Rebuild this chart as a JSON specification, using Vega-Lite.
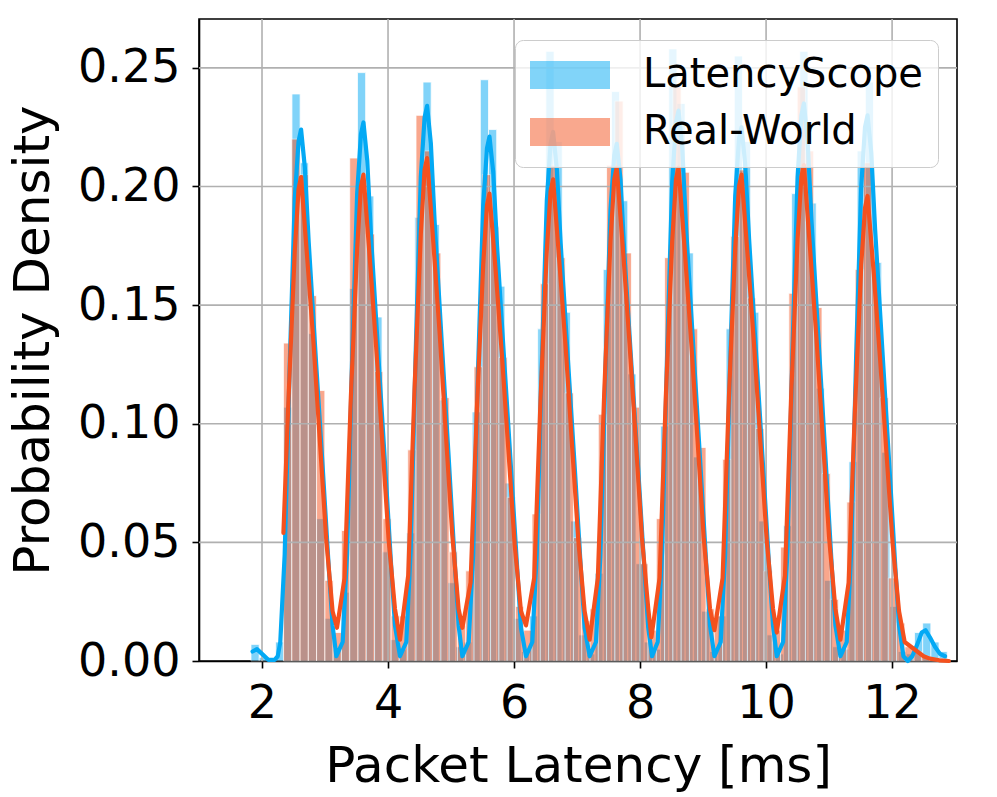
{
"$schema": "https://vega.github.io/schema/vega-lite/v6.json",
"width": 758, "height": 642,
"autosize": {"type": "none"},
"padding": {"left": 199, "top": 19, "right": 40, "bottom": 136},
"background": "white",
"config": {
 "font": "DejaVu Sans",
 "view": {"stroke": "black", "strokeWidth": 1.6},
 "axis": {"domain": true, "domainColor": "black", "domainWidth": 1.6, "ticks": true, "tickColor": "black", "tickSize": 7, "tickWidth": 1.6,
  "labelFont": "DejaVu Sans", "labelFontSize": 46, "labelColor": "black", "labelFlush": false, "labelOverlap": false,
  "titleFont": "DejaVu Sans", "titleFontSize": 50, "titleFontWeight": "normal", "titleColor": "black", "grid": false, "zindex": 1}
},
"datasets": {
 "hist": [
{"s":"LatencyScope","x0":1.825,"x1":1.955,"y":0.007},{"s":"LatencyScope","x0":1.955,"x1":2.085,"y":0.0015},{"s":"LatencyScope","x0":2.085,"x1":2.215,"y":0.001},{"s":"LatencyScope","x0":2.215,"x1":2.345,"y":0.008},{"s":"LatencyScope","x0":2.345,"x1":2.475,"y":0.107},{"s":"LatencyScope","x0":2.475,"x1":2.605,"y":0.239},{"s":"LatencyScope","x0":2.605,"x1":2.735,"y":0.210},{"s":"LatencyScope","x0":2.735,"x1":2.865,"y":0.138},{"s":"LatencyScope","x0":2.865,"x1":2.995,"y":0.06},{"s":"LatencyScope","x0":2.995,"x1":3.125,"y":0.018},
{"s":"LatencyScope","x0":3.125,"x1":3.255,"y":0.005},{"s":"LatencyScope","x0":3.255,"x1":3.385,"y":0.029},{"s":"LatencyScope","x0":3.385,"x1":3.515,"y":0.157},{"s":"LatencyScope","x0":3.515,"x1":3.645,"y":0.248},{"s":"LatencyScope","x0":3.645,"x1":3.775,"y":0.196},{"s":"LatencyScope","x0":3.775,"x1":3.905,"y":0.145},{"s":"LatencyScope","x0":3.905,"x1":4.035,"y":0.046},{"s":"LatencyScope","x0":4.035,"x1":4.165,"y":0.009},{"s":"LatencyScope","x0":4.165,"x1":4.295,"y":0.005},{"s":"LatencyScope","x0":4.295,"x1":4.425,"y":0.054},
{"s":"LatencyScope","x0":4.425,"x1":4.555,"y":0.187},{"s":"LatencyScope","x0":4.555,"x1":4.685,"y":0.244},{"s":"LatencyScope","x0":4.685,"x1":4.815,"y":0.184},{"s":"LatencyScope","x0":4.815,"x1":4.945,"y":0.110},{"s":"LatencyScope","x0":4.945,"x1":5.075,"y":0.033},{"s":"LatencyScope","x0":5.075,"x1":5.205,"y":0.006},{"s":"LatencyScope","x0":5.205,"x1":5.335,"y":0.008},{"s":"LatencyScope","x0":5.335,"x1":5.465,"y":0.105},{"s":"LatencyScope","x0":5.465,"x1":5.595,"y":0.245},{"s":"LatencyScope","x0":5.595,"x1":5.725,"y":0.224},
{"s":"LatencyScope","x0":5.725,"x1":5.855,"y":0.158},{"s":"LatencyScope","x0":5.855,"x1":5.985,"y":0.075},{"s":"LatencyScope","x0":5.985,"x1":6.115,"y":0.018},{"s":"LatencyScope","x0":6.115,"x1":6.245,"y":0.004},{"s":"LatencyScope","x0":6.245,"x1":6.375,"y":0.019},{"s":"LatencyScope","x0":6.375,"x1":6.505,"y":0.140},{"s":"LatencyScope","x0":6.505,"x1":6.635,"y":0.257},{"s":"LatencyScope","x0":6.635,"x1":6.765,"y":0.219},{"s":"LatencyScope","x0":6.765,"x1":6.895,"y":0.147},{"s":"LatencyScope","x0":6.895,"x1":7.025,"y":0.059},
{"s":"LatencyScope","x0":7.025,"x1":7.155,"y":0.011},{"s":"LatencyScope","x0":7.155,"x1":7.285,"y":0.003},{"s":"LatencyScope","x0":7.285,"x1":7.415,"y":0.037},{"s":"LatencyScope","x0":7.415,"x1":7.545,"y":0.165},{"s":"LatencyScope","x0":7.545,"x1":7.675,"y":0.240},{"s":"LatencyScope","x0":7.675,"x1":7.805,"y":0.194},{"s":"LatencyScope","x0":7.805,"x1":7.935,"y":0.121},{"s":"LatencyScope","x0":7.935,"x1":8.065,"y":0.041},{"s":"LatencyScope","x0":8.065,"x1":8.195,"y":0.008},{"s":"LatencyScope","x0":8.195,"x1":8.325,"y":0.005},
{"s":"LatencyScope","x0":8.325,"x1":8.455,"y":0.099},{"s":"LatencyScope","x0":8.455,"x1":8.585,"y":0.258},{"s":"LatencyScope","x0":8.585,"x1":8.715,"y":0.235},{"s":"LatencyScope","x0":8.715,"x1":8.845,"y":0.172},{"s":"LatencyScope","x0":8.845,"x1":8.975,"y":0.086},{"s":"LatencyScope","x0":8.975,"x1":9.105,"y":0.021},{"s":"LatencyScope","x0":9.105,"x1":9.235,"y":0.004},{"s":"LatencyScope","x0":9.235,"x1":9.365,"y":0.019},{"s":"LatencyScope","x0":9.365,"x1":9.495,"y":0.140},{"s":"LatencyScope","x0":9.495,"x1":9.625,"y":0.255},
{"s":"LatencyScope","x0":9.625,"x1":9.755,"y":0.219},{"s":"LatencyScope","x0":9.755,"x1":9.885,"y":0.147},{"s":"LatencyScope","x0":9.885,"x1":10.015,"y":0.059},{"s":"LatencyScope","x0":10.015,"x1":10.145,"y":0.011},{"s":"LatencyScope","x0":10.145,"x1":10.275,"y":0.003},{"s":"LatencyScope","x0":10.275,"x1":10.405,"y":0.057},{"s":"LatencyScope","x0":10.405,"x1":10.535,"y":0.197},{"s":"LatencyScope","x0":10.535,"x1":10.665,"y":0.257},{"s":"LatencyScope","x0":10.665,"x1":10.795,"y":0.193},{"s":"LatencyScope","x0":10.795,"x1":10.925,"y":0.115},
{"s":"LatencyScope","x0":10.925,"x1":11.055,"y":0.034},{"s":"LatencyScope","x0":11.055,"x1":11.185,"y":0.006},{"s":"LatencyScope","x0":11.185,"x1":11.315,"y":0.005},{"s":"LatencyScope","x0":11.315,"x1":11.445,"y":0.084},{"s":"LatencyScope","x0":11.445,"x1":11.575,"y":0.215},{"s":"LatencyScope","x0":11.575,"x1":11.705,"y":0.244},{"s":"LatencyScope","x0":11.705,"x1":11.835,"y":0.168},{"s":"LatencyScope","x0":11.835,"x1":11.965,"y":0.088},{"s":"LatencyScope","x0":11.965,"x1":12.095,"y":0.023},{"s":"LatencyScope","x0":12.095,"x1":12.225,"y":0.004},
{"s":"LatencyScope","x0":12.225,"x1":12.355,"y":0.003},{"s":"LatencyScope","x0":12.355,"x1":12.485,"y":0.012},{"s":"LatencyScope","x0":12.485,"x1":12.615,"y":0.016},{"s":"LatencyScope","x0":12.615,"x1":12.745,"y":0.008},{"s":"LatencyScope","x0":12.745,"x1":12.875,"y":0.004},
{"s":"Real-World","x0":2.34,"x1":2.4715,"y":0.134},{"s":"Real-World","x0":2.4715,"x1":2.603,"y":0.220},{"s":"Real-World","x0":2.603,"x1":2.7345,"y":0.205},{"s":"Real-World","x0":2.7345,"x1":2.866,"y":0.154},{"s":"Real-World","x0":2.866,"x1":2.9975,"y":0.114},{"s":"Real-World","x0":2.9975,"x1":3.129,"y":0.034},{"s":"Real-World","x0":3.129,"x1":3.2605,"y":0.012},{"s":"Real-World","x0":3.2605,"x1":3.392,"y":0.055},{"s":"Real-World","x0":3.392,"x1":3.5235,"y":0.212},{"s":"Real-World","x0":3.5235,"x1":3.655,"y":0.200},
{"s":"Real-World","x0":3.655,"x1":3.7865,"y":0.180},{"s":"Real-World","x0":3.7865,"x1":3.918,"y":0.122},{"s":"Real-World","x0":3.918,"x1":4.0495,"y":0.060},{"s":"Real-World","x0":4.0495,"x1":4.181,"y":0.019},{"s":"Real-World","x0":4.181,"x1":4.3125,"y":0.019},{"s":"Real-World","x0":4.3125,"x1":4.444,"y":0.089},{"s":"Real-World","x0":4.444,"x1":4.5755,"y":0.230},{"s":"Real-World","x0":4.5755,"x1":4.707,"y":0.215},{"s":"Real-World","x0":4.707,"x1":4.8385,"y":0.172},{"s":"Real-World","x0":4.8385,"x1":4.97,"y":0.111},
{"s":"Real-World","x0":4.97,"x1":5.1015,"y":0.046},{"s":"Real-World","x0":5.1015,"x1":5.233,"y":0.015},{"s":"Real-World","x0":5.233,"x1":5.3645,"y":0.038},{"s":"Real-World","x0":5.3645,"x1":5.496,"y":0.124},{"s":"Real-World","x0":5.496,"x1":5.6275,"y":0.205},{"s":"Real-World","x0":5.6275,"x1":5.759,"y":0.183},{"s":"Real-World","x0":5.759,"x1":5.8905,"y":0.128},{"s":"Real-World","x0":5.8905,"x1":6.022,"y":0.069},{"s":"Real-World","x0":6.022,"x1":6.1535,"y":0.023},{"s":"Real-World","x0":6.1535,"x1":6.285,"y":0.013},
{"s":"Real-World","x0":6.285,"x1":6.4165,"y":0.062},{"s":"Real-World","x0":6.4165,"x1":6.548,"y":0.159},{"s":"Real-World","x0":6.548,"x1":6.6795,"y":0.209},{"s":"Real-World","x0":6.6795,"x1":6.811,"y":0.170},{"s":"Real-World","x0":6.811,"x1":6.9425,"y":0.113},{"s":"Real-World","x0":6.9425,"x1":7.074,"y":0.052},{"s":"Real-World","x0":7.074,"x1":7.2055,"y":0.017},{"s":"Real-World","x0":7.2055,"x1":7.337,"y":0.022},{"s":"Real-World","x0":7.337,"x1":7.4685,"y":0.104},{"s":"Real-World","x0":7.4685,"x1":7.6,"y":0.209},
{"s":"Real-World","x0":7.6,"x1":7.7315,"y":0.236},{"s":"Real-World","x0":7.7315,"x1":7.863,"y":0.172},{"s":"Real-World","x0":7.863,"x1":7.9945,"y":0.107},{"s":"Real-World","x0":7.9945,"x1":8.126,"y":0.041},{"s":"Real-World","x0":8.126,"x1":8.2575,"y":0.013},{"s":"Real-World","x0":8.2575,"x1":8.389,"y":0.060},{"s":"Real-World","x0":8.389,"x1":8.5205,"y":0.170},{"s":"Real-World","x0":8.5205,"x1":8.652,"y":0.242},{"s":"Real-World","x0":8.652,"x1":8.7835,"y":0.206},{"s":"Real-World","x0":8.7835,"x1":8.915,"y":0.140},
{"s":"Real-World","x0":8.915,"x1":9.0465,"y":0.090},{"s":"Real-World","x0":9.0465,"x1":9.178,"y":0.022},{"s":"Real-World","x0":9.178,"x1":9.3095,"y":0.019},{"s":"Real-World","x0":9.3095,"x1":9.441,"y":0.085},{"s":"Real-World","x0":9.441,"x1":9.5725,"y":0.179},{"s":"Real-World","x0":9.5725,"x1":9.704,"y":0.207},{"s":"Real-World","x0":9.704,"x1":9.8355,"y":0.153},{"s":"Real-World","x0":9.8355,"x1":9.967,"y":0.098},{"s":"Real-World","x0":9.967,"x1":10.0985,"y":0.038},{"s":"Real-World","x0":10.0985,"x1":10.23,"y":0.013},
{"s":"Real-World","x0":10.23,"x1":10.3615,"y":0.048},{"s":"Real-World","x0":10.3615,"x1":10.493,"y":0.155},{"s":"Real-World","x0":10.493,"x1":10.6245,"y":0.242},{"s":"Real-World","x0":10.6245,"x1":10.756,"y":0.215},{"s":"Real-World","x0":10.756,"x1":10.8875,"y":0.149},{"s":"Real-World","x0":10.8875,"x1":11.019,"y":0.079},{"s":"Real-World","x0":11.019,"x1":11.1505,"y":0.026},{"s":"Real-World","x0":11.1505,"x1":11.282,"y":0.013},{"s":"Real-World","x0":11.282,"x1":11.4135,"y":0.067},{"s":"Real-World","x0":11.4135,"x1":11.545,"y":0.165},
{"s":"Real-World","x0":11.545,"x1":11.6765,"y":0.210},{"s":"Real-World","x0":11.6765,"x1":11.808,"y":0.168},{"s":"Real-World","x0":11.808,"x1":11.9395,"y":0.111},{"s":"Real-World","x0":11.9395,"x1":12.071,"y":0.035},{"s":"Real-World","x0":12.071,"x1":12.2025,"y":0.016},{"s":"Real-World","x0":12.2025,"x1":12.334,"y":0.006},{"s":"Real-World","x0":12.334,"x1":12.4655,"y":0.004},{"s":"Real-World","x0":12.4655,"x1":12.597,"y":0.002},{"s":"Real-World","x0":12.597,"x1":12.7285,"y":0.001},{"s":"Real-World","x0":12.7285,"x1":12.86,"y":0.001}
 ],
 "kde": [
{"s":"LatencyScope","x":1.85,"y":0.004},{"s":"LatencyScope","x":1.92,"y":0.005},{"s":"LatencyScope","x":2.0,"y":0.003},{"s":"LatencyScope","x":2.1,"y":0.0005},{"s":"LatencyScope","x":2.2,"y":0.0005},{"s":"LatencyScope","x":2.25,"y":0.002},
{"s":"LatencyScope","x":2.29,"y":0.008},{"s":"LatencyScope","x":2.36,"y":0.045},{"s":"LatencyScope","x":2.44,"y":0.125},{"s":"LatencyScope","x":2.52,"y":0.195},{"s":"LatencyScope","x":2.58,"y":0.219},{"s":"LatencyScope","x":2.62,"y":0.224},{"s":"LatencyScope","x":2.68,"y":0.208},{"s":"LatencyScope","x":2.74,"y":0.177},{"s":"LatencyScope","x":2.86,"y":0.125},{"s":"LatencyScope","x":2.96,"y":0.083},{"s":"LatencyScope","x":3.06,"y":0.039},{"s":"LatencyScope","x":3.12,"y":0.015},{"s":"LatencyScope","x":3.18,"y":0.002},
{"s":"LatencyScope","x":3.28,"y":0.008},{"s":"LatencyScope","x":3.35,"y":0.045},{"s":"LatencyScope","x":3.43,"y":0.127},{"s":"LatencyScope","x":3.51,"y":0.197},{"s":"LatencyScope","x":3.57,"y":0.222},{"s":"LatencyScope","x":3.61,"y":0.227},{"s":"LatencyScope","x":3.67,"y":0.211},{"s":"LatencyScope","x":3.73,"y":0.179},{"s":"LatencyScope","x":3.85,"y":0.127},{"s":"LatencyScope","x":3.95,"y":0.084},{"s":"LatencyScope","x":4.05,"y":0.040},{"s":"LatencyScope","x":4.11,"y":0.015},{"s":"LatencyScope","x":4.19,"y":0.002},
{"s":"LatencyScope","x":4.29,"y":0.008},{"s":"LatencyScope","x":4.36,"y":0.047},{"s":"LatencyScope","x":4.44,"y":0.131},{"s":"LatencyScope","x":4.52,"y":0.204},{"s":"LatencyScope","x":4.58,"y":0.229},{"s":"LatencyScope","x":4.62,"y":0.234},{"s":"LatencyScope","x":4.68,"y":0.218},{"s":"LatencyScope","x":4.74,"y":0.185},{"s":"LatencyScope","x":4.86,"y":0.131},{"s":"LatencyScope","x":4.96,"y":0.087},{"s":"LatencyScope","x":5.06,"y":0.041},{"s":"LatencyScope","x":5.12,"y":0.015},{"s":"LatencyScope","x":5.18,"y":0.002},
{"s":"LatencyScope","x":5.28,"y":0.008},{"s":"LatencyScope","x":5.35,"y":0.044},{"s":"LatencyScope","x":5.43,"y":0.124},{"s":"LatencyScope","x":5.51,"y":0.192},{"s":"LatencyScope","x":5.57,"y":0.216},{"s":"LatencyScope","x":5.61,"y":0.221},{"s":"LatencyScope","x":5.67,"y":0.206},{"s":"LatencyScope","x":5.73,"y":0.175},{"s":"LatencyScope","x":5.85,"y":0.124},{"s":"LatencyScope","x":5.95,"y":0.082},{"s":"LatencyScope","x":6.05,"y":0.039},{"s":"LatencyScope","x":6.11,"y":0.014},{"s":"LatencyScope","x":6.19,"y":0.002},
{"s":"LatencyScope","x":6.29,"y":0.008},{"s":"LatencyScope","x":6.36,"y":0.045},{"s":"LatencyScope","x":6.44,"y":0.125},{"s":"LatencyScope","x":6.52,"y":0.194},{"s":"LatencyScope","x":6.58,"y":0.218},{"s":"LatencyScope","x":6.62,"y":0.223},{"s":"LatencyScope","x":6.68,"y":0.207},{"s":"LatencyScope","x":6.74,"y":0.176},{"s":"LatencyScope","x":6.86,"y":0.125},{"s":"LatencyScope","x":6.96,"y":0.083},{"s":"LatencyScope","x":7.06,"y":0.039},{"s":"LatencyScope","x":7.12,"y":0.014},{"s":"LatencyScope","x":7.20,"y":0.002},
{"s":"LatencyScope","x":7.30,"y":0.008},{"s":"LatencyScope","x":7.37,"y":0.044},{"s":"LatencyScope","x":7.45,"y":0.122},{"s":"LatencyScope","x":7.53,"y":0.190},{"s":"LatencyScope","x":7.59,"y":0.213},{"s":"LatencyScope","x":7.63,"y":0.218},{"s":"LatencyScope","x":7.69,"y":0.203},{"s":"LatencyScope","x":7.75,"y":0.172},{"s":"LatencyScope","x":7.87,"y":0.122},{"s":"LatencyScope","x":7.97,"y":0.081},{"s":"LatencyScope","x":8.07,"y":0.038},{"s":"LatencyScope","x":8.13,"y":0.014},{"s":"LatencyScope","x":8.19,"y":0.002},
{"s":"LatencyScope","x":8.28,"y":0.008},{"s":"LatencyScope","x":8.35,"y":0.046},{"s":"LatencyScope","x":8.43,"y":0.130},{"s":"LatencyScope","x":8.51,"y":0.202},{"s":"LatencyScope","x":8.57,"y":0.227},{"s":"LatencyScope","x":8.61,"y":0.232},{"s":"LatencyScope","x":8.67,"y":0.216},{"s":"LatencyScope","x":8.73,"y":0.183},{"s":"LatencyScope","x":8.85,"y":0.130},{"s":"LatencyScope","x":8.95,"y":0.086},{"s":"LatencyScope","x":9.05,"y":0.041},{"s":"LatencyScope","x":9.11,"y":0.015},{"s":"LatencyScope","x":9.18,"y":0.002},
{"s":"LatencyScope","x":9.28,"y":0.008},{"s":"LatencyScope","x":9.35,"y":0.045},{"s":"LatencyScope","x":9.43,"y":0.126},{"s":"LatencyScope","x":9.51,"y":0.196},{"s":"LatencyScope","x":9.57,"y":0.220},{"s":"LatencyScope","x":9.61,"y":0.225},{"s":"LatencyScope","x":9.67,"y":0.209},{"s":"LatencyScope","x":9.73,"y":0.178},{"s":"LatencyScope","x":9.85,"y":0.126},{"s":"LatencyScope","x":9.95,"y":0.083},{"s":"LatencyScope","x":10.05,"y":0.039},{"s":"LatencyScope","x":10.11,"y":0.015},{"s":"LatencyScope","x":10.17,"y":0.002},
{"s":"LatencyScope","x":10.27,"y":0.008},{"s":"LatencyScope","x":10.34,"y":0.047},{"s":"LatencyScope","x":10.42,"y":0.132},{"s":"LatencyScope","x":10.50,"y":0.204},{"s":"LatencyScope","x":10.56,"y":0.230},{"s":"LatencyScope","x":10.60,"y":0.235},{"s":"LatencyScope","x":10.66,"y":0.219},{"s":"LatencyScope","x":10.72,"y":0.186},{"s":"LatencyScope","x":10.84,"y":0.132},{"s":"LatencyScope","x":10.94,"y":0.087},{"s":"LatencyScope","x":11.04,"y":0.041},{"s":"LatencyScope","x":11.10,"y":0.015},{"s":"LatencyScope","x":11.18,"y":0.002},
{"s":"LatencyScope","x":11.28,"y":0.008},{"s":"LatencyScope","x":11.35,"y":0.046},{"s":"LatencyScope","x":11.43,"y":0.129},{"s":"LatencyScope","x":11.51,"y":0.200},{"s":"LatencyScope","x":11.57,"y":0.225},{"s":"LatencyScope","x":11.61,"y":0.230},{"s":"LatencyScope","x":11.67,"y":0.214},{"s":"LatencyScope","x":11.73,"y":0.182},{"s":"LatencyScope","x":11.85,"y":0.129},{"s":"LatencyScope","x":11.95,"y":0.085},{"s":"LatencyScope","x":12.05,"y":0.040},{"s":"LatencyScope","x":12.11,"y":0.015},{"s":"LatencyScope","x":12.18,"y":0.002},
{"s":"LatencyScope","x":12.25,"y":0.0},{"s":"LatencyScope","x":12.32,"y":0.002},{"s":"LatencyScope","x":12.40,"y":0.007},{"s":"LatencyScope","x":12.47,"y":0.012},{"s":"LatencyScope","x":12.53,"y":0.013},{"s":"LatencyScope","x":12.60,"y":0.010},{"s":"LatencyScope","x":12.68,"y":0.006},{"s":"LatencyScope","x":12.76,"y":0.003},{"s":"LatencyScope","x":12.84,"y":0.002},
{"s":"Real-World","x":2.34,"y":0.054},{"s":"Real-World","x":2.42,"y":0.110},{"s":"Real-World","x":2.52,"y":0.173},{"s":"Real-World","x":2.58,"y":0.199},{"s":"Real-World","x":2.62,"y":0.204},{"s":"Real-World","x":2.72,"y":0.169},{"s":"Real-World","x":2.82,"y":0.133},{"s":"Real-World","x":2.92,"y":0.092},{"s":"Real-World","x":3.02,"y":0.051},{"s":"Real-World","x":3.12,"y":0.021},{"s":"Real-World","x":3.19,"y":0.014},
{"s":"Real-World","x":3.31,"y":0.035},{"s":"Real-World","x":3.41,"y":0.111},{"s":"Real-World","x":3.51,"y":0.174},{"s":"Real-World","x":3.57,"y":0.200},{"s":"Real-World","x":3.61,"y":0.205},{"s":"Real-World","x":3.71,"y":0.170},{"s":"Real-World","x":3.81,"y":0.133},{"s":"Real-World","x":3.91,"y":0.092},{"s":"Real-World","x":4.01,"y":0.051},{"s":"Real-World","x":4.11,"y":0.022},{"s":"Real-World","x":4.19,"y":0.009},
{"s":"Real-World","x":4.32,"y":0.036},{"s":"Real-World","x":4.42,"y":0.114},{"s":"Real-World","x":4.52,"y":0.180},{"s":"Real-World","x":4.58,"y":0.207},{"s":"Real-World","x":4.62,"y":0.212},{"s":"Real-World","x":4.72,"y":0.176},{"s":"Real-World","x":4.82,"y":0.138},{"s":"Real-World","x":4.92,"y":0.095},{"s":"Real-World","x":5.02,"y":0.053},{"s":"Real-World","x":5.12,"y":0.022},{"s":"Real-World","x":5.18,"y":0.014},
{"s":"Real-World","x":5.31,"y":0.033},{"s":"Real-World","x":5.41,"y":0.106},{"s":"Real-World","x":5.51,"y":0.167},{"s":"Real-World","x":5.57,"y":0.192},{"s":"Real-World","x":5.61,"y":0.197},{"s":"Real-World","x":5.71,"y":0.164},{"s":"Real-World","x":5.81,"y":0.128},{"s":"Real-World","x":5.91,"y":0.089},{"s":"Real-World","x":6.01,"y":0.049},{"s":"Real-World","x":6.11,"y":0.021},{"s":"Real-World","x":6.19,"y":0.015},
{"s":"Real-World","x":6.32,"y":0.035},{"s":"Real-World","x":6.42,"y":0.110},{"s":"Real-World","x":6.52,"y":0.173},{"s":"Real-World","x":6.58,"y":0.198},{"s":"Real-World","x":6.62,"y":0.203},{"s":"Real-World","x":6.72,"y":0.168},{"s":"Real-World","x":6.82,"y":0.132},{"s":"Real-World","x":6.92,"y":0.091},{"s":"Real-World","x":7.02,"y":0.051},{"s":"Real-World","x":7.12,"y":0.021},{"s":"Real-World","x":7.20,"y":0.009},
{"s":"Real-World","x":7.33,"y":0.035},{"s":"Real-World","x":7.43,"y":0.112},{"s":"Real-World","x":7.53,"y":0.177},{"s":"Real-World","x":7.59,"y":0.203},{"s":"Real-World","x":7.63,"y":0.208},{"s":"Real-World","x":7.73,"y":0.173},{"s":"Real-World","x":7.83,"y":0.135},{"s":"Real-World","x":7.93,"y":0.094},{"s":"Real-World","x":8.03,"y":0.052},{"s":"Real-World","x":8.13,"y":0.022},{"s":"Real-World","x":8.18,"y":0.010},
{"s":"Real-World","x":8.31,"y":0.035},{"s":"Real-World","x":8.41,"y":0.112},{"s":"Real-World","x":8.51,"y":0.177},{"s":"Real-World","x":8.57,"y":0.203},{"s":"Real-World","x":8.61,"y":0.208},{"s":"Real-World","x":8.71,"y":0.173},{"s":"Real-World","x":8.81,"y":0.135},{"s":"Real-World","x":8.91,"y":0.094},{"s":"Real-World","x":9.01,"y":0.052},{"s":"Real-World","x":9.11,"y":0.022},{"s":"Real-World","x":9.18,"y":0.013},
{"s":"Real-World","x":9.31,"y":0.035},{"s":"Real-World","x":9.41,"y":0.111},{"s":"Real-World","x":9.51,"y":0.174},{"s":"Real-World","x":9.57,"y":0.200},{"s":"Real-World","x":9.61,"y":0.205},{"s":"Real-World","x":9.71,"y":0.170},{"s":"Real-World","x":9.81,"y":0.133},{"s":"Real-World","x":9.91,"y":0.092},{"s":"Real-World","x":10.01,"y":0.051},{"s":"Real-World","x":10.11,"y":0.022},{"s":"Real-World","x":10.17,"y":0.012},
{"s":"Real-World","x":10.30,"y":0.036},{"s":"Real-World","x":10.40,"y":0.113},{"s":"Real-World","x":10.50,"y":0.178},{"s":"Real-World","x":10.56,"y":0.204},{"s":"Real-World","x":10.60,"y":0.209},{"s":"Real-World","x":10.70,"y":0.173},{"s":"Real-World","x":10.80,"y":0.136},{"s":"Real-World","x":10.90,"y":0.094},{"s":"Real-World","x":11.00,"y":0.052},{"s":"Real-World","x":11.10,"y":0.022},{"s":"Real-World","x":11.18,"y":0.009},
{"s":"Real-World","x":11.31,"y":0.033},{"s":"Real-World","x":11.41,"y":0.106},{"s":"Real-World","x":11.51,"y":0.167},{"s":"Real-World","x":11.57,"y":0.191},{"s":"Real-World","x":11.61,"y":0.196},{"s":"Real-World","x":11.71,"y":0.163},{"s":"Real-World","x":11.81,"y":0.127},{"s":"Real-World","x":11.91,"y":0.088},{"s":"Real-World","x":12.01,"y":0.049},{"s":"Real-World","x":12.11,"y":0.021},{"s":"Real-World","x":12.20,"y":0.008},
{"s":"Real-World","x":12.30,"y":0.006},{"s":"Real-World","x":12.40,"y":0.004},{"s":"Real-World","x":12.50,"y":0.002},{"s":"Real-World","x":12.60,"y":0.001},{"s":"Real-World","x":12.75,"y":0.0003},{"s":"Real-World","x":12.90,"y":0.0}
 ],
 "gx": [{"v":2},{"v":4},{"v":6},{"v":8},{"v":10},{"v":12}],
 "gy": [{"v":0.05},{"v":0.10},{"v":0.15},{"v":0.20},{"v":0.25}]
},
"layer": [
 {
  "data": {"name": "hist"},
  "mark": {"type": "rect", "opacity": 0.5, "stroke": "white", "strokeWidth": 0.8},
  "encoding": {
   "x": {"field": "x0", "type": "quantitative", "scale": {"domain": [1.0, 13.03], "nice": false, "zero": false},
    "axis": {"values": [2,4,6,8,10,12], "format": "d", "title": "Packet Latency [ms]", "labelPadding": 13, "titleBaseline": "alphabetic", "titleY": 120}},
   "x2": {"field": "x1"},
   "y": {"field": "y", "type": "quantitative", "scale": {"domain": [0, 0.2706], "nice": false, "zero": true},
    "axis": {"values": [0,0.05,0.1,0.15,0.2,0.25], "format": ".2f", "title": "Probability Density", "labelPadding": 12, "titleAngle": 270, "titleBaseline": "alphabetic", "titleAlign": "center", "titleX": -151, "titleY": 321}},
   "y2": {"datum": 0},
   "fill": {"field": "s", "type": "nominal", "scale": {"domain": ["LatencyScope", "Real-World"], "range": ["#03A9F4", "#F4511E"]},
    "legend": {"orient": "none", "legendX": 316, "legendY": 21, "title": null, "symbolType": "M-1,-0.7H3V0.7H-1Z", "symbolSize": 1600, "symbolOpacity": 0.5, "symbolStrokeWidth": 0,
     "labelFontSize": 40, "labelFont": "DejaVu Sans", "labelColor": "black", "labelOffset": 73, "labelLimit": 500, "rowPadding": 17, "padding": 15,
     "fillColor": "rgba(255,255,255,0.8)", "strokeColor": "#cccccc", "cornerRadius": 8}}
  }
 },
 {
  "data": {"name": "gx"},
  "mark": {"type": "rule", "color": "#b0b0b0", "strokeWidth": 1.6},
  "encoding": {"x": {"field": "v", "type": "quantitative",
    "axis": {"values": [2,4,6,8,10,12], "format": "d", "title": "Packet Latency [ms]", "labelPadding": 13, "titleBaseline": "alphabetic", "titleY": 120}}}
 },
 {
  "data": {"name": "gy"},
  "mark": {"type": "rule", "color": "#b0b0b0", "strokeWidth": 1.6},
  "encoding": {"y": {"field": "v", "type": "quantitative",
    "axis": {"values": [0,0.05,0.1,0.15,0.2,0.25], "format": ".2f", "title": "Probability Density", "labelPadding": 12, "titleAngle": 270, "titleBaseline": "alphabetic", "titleAlign": "center", "titleX": -151, "titleY": 321}}}
 },
 {
  "data": {"name": "kde"},
  "mark": {"type": "line", "strokeWidth": 4.2, "strokeJoin": "round", "strokeCap": "round"},
  "encoding": {
   "x": {"field": "x", "type": "quantitative",
    "axis": {"values": [2,4,6,8,10,12], "format": "d", "title": "Packet Latency [ms]", "labelPadding": 13, "titleBaseline": "alphabetic", "titleY": 120}},
   "y": {"field": "y", "type": "quantitative",
    "axis": {"values": [0,0.05,0.1,0.15,0.2,0.25], "format": ".2f", "title": "Probability Density", "labelPadding": 12, "titleAngle": 270, "titleBaseline": "alphabetic", "titleAlign": "center", "titleX": -151, "titleY": 321}},
   "stroke": {"field": "s", "type": "nominal", "scale": {"domain": ["LatencyScope", "Real-World"], "range": ["#03A9F4", "#F4511E"]}, "legend": null}
  }
 }
]
}
